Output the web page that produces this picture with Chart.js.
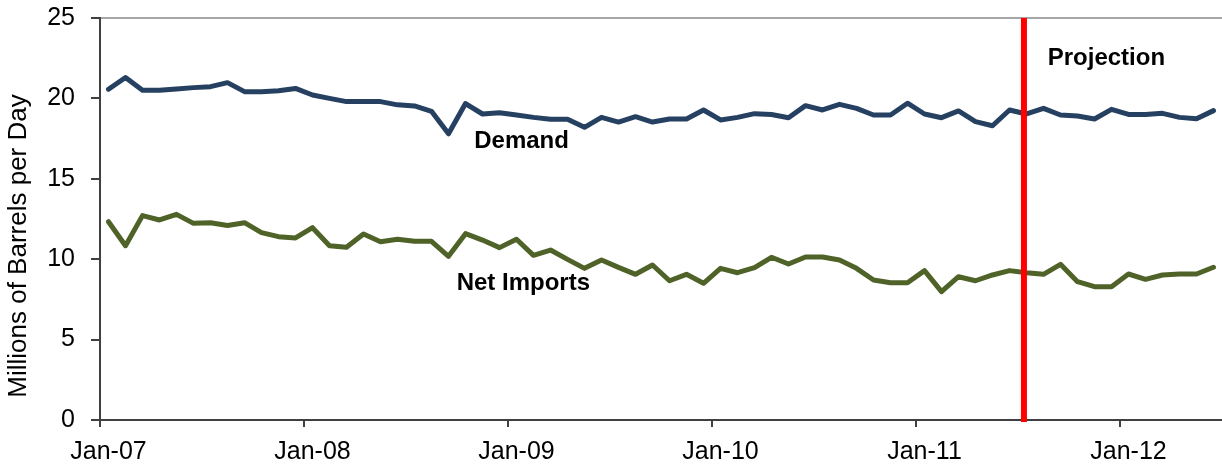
<!DOCTYPE html>
<html>
<head>
<meta charset="utf-8">
<script src="https://cdn.jsdelivr.net/npm/chart.js@4"></script>
<style>
  html, body { margin: 0; padding: 0; background: #fff; }
</style>
</head>
<body>
<canvas id="chartOil" width="1222" height="466"></canvas>
<script>
// months shown on the axis
const years = ['07', '08', '09', '10', '11', '12'];
const months = ['Jan', 'Feb', 'Mar', 'Apr', 'May', 'Jun', 'Jul', 'Aug', 'Sep', 'Oct', 'Nov', 'Dec'];
const monthCount = 66; // Jan-07 .. Jun-12

// millions of barrels per day
const demand = [
  20.57, 21.30, 20.50, 20.50, 20.58, 20.67, 20.73, 20.98, 20.42, 20.42, 20.48, 20.62,
  20.21, 20.00, 19.80, 19.80, 19.80, 19.60, 19.53, 19.20, 17.80, 19.68, 19.03, 19.11,
  18.97, 18.82, 18.70, 18.70, 18.20, 18.82, 18.53, 18.86, 18.53, 18.72, 18.72, 19.28,
  18.66, 18.82, 19.05, 19.00, 18.80, 19.55, 19.28, 19.63, 19.38, 18.97, 18.97, 19.70,
  19.03, 18.80, 19.22, 18.56, 18.30, 19.28, 19.03, 19.38, 18.97, 18.90, 18.72, 19.32,
  19.00, 19.00, 19.07, 18.82, 18.74, 19.24
];
const netImports = [
  12.33, 10.84, 12.71, 12.44, 12.79, 12.23, 12.27, 12.10, 12.27, 11.65, 11.40, 11.32,
  11.96, 10.84, 10.74, 11.57, 11.09, 11.24, 11.11, 11.11, 10.18, 11.59, 11.19, 10.72,
  11.24, 10.24, 10.57, 9.99, 9.43, 9.95, 9.49, 9.06, 9.64, 8.66, 9.06, 8.50,
  9.43, 9.16, 9.47, 10.12, 9.70, 10.14, 10.14, 9.95, 9.43, 8.71, 8.54, 8.54,
  9.29, 7.98, 8.91, 8.66, 9.02, 9.29, 9.16, 9.06, 9.68, 8.60, 8.29, 8.29,
  9.08, 8.75, 9.02, 9.08, 9.08, 9.50
];
const yTicks = [0, 5, 10, 15, 20, 25];

// projection starts between Jun-11 and Jul-11 (category index)
const projectionAt = 53.85;
const notes = [
  { text: 'Demand', x: 24.3, y: 17.3 },
  { text: 'Net Imports', x: 24.4, y: 8.5 },
  { text: 'Projection', x: 58.7, y: 22.5 }
];

const labels = [];
for (let i = 0; i < monthCount; i++) {
  labels.push(months[i % 12] + '-' + years[Math.floor(i / 12)]);
}

const FONT = "'Liberation Sans', Arial, sans-serif";
const AXIS = '#404040';

// red projection line + text notes
const overlay = {
  id: 'overlay',
  afterDatasetsDraw(chart) {
    const { ctx, chartArea, scales } = chart;
    const px = scales.x.getPixelForValue(projectionAt);
    ctx.save();
    ctx.strokeStyle = '#ff0000';
    ctx.lineWidth = 6;
    ctx.beginPath();
    ctx.moveTo(px, chartArea.top);
    ctx.lineTo(px, chartArea.bottom + 2);
    ctx.stroke();

    ctx.fillStyle = '#000';
    ctx.font = 'bold 24px ' + FONT;
    ctx.textAlign = 'center';
    ctx.textBaseline = 'middle';
    notes.forEach(n => {
      ctx.fillText(n.text, scales.x.getPixelForValue(n.x), scales.y.getPixelForValue(n.y));
    });

    // y axis title
    ctx.font = '26px ' + FONT;
    ctx.translate(19, (chartArea.top + chartArea.bottom) / 2 + 27);
    ctx.rotate(-Math.PI / 2);
    ctx.fillText('Millions of Barrels per Day', 0, 0);
    ctx.restore();
  }
};

function chartOil() {
  const ctx = document.getElementById('chartOil');
  new Chart(ctx, {
    type: 'line',
    data: {
      labels: labels,
      datasets: [{
        label: 'Demand',
        data: demand,
        borderColor: '#254061',
        borderWidth: 5,
        pointRadius: 0,
        tension: 0,
        borderJoinStyle: 'round',
        borderCapStyle: 'round'
      }, {
        label: 'Net Imports',
        data: netImports,
        borderColor: '#4f6228',
        borderWidth: 5,
        pointRadius: 0,
        tension: 0,
        borderJoinStyle: 'round',
        borderCapStyle: 'round'
      }]
    },
    options: {
      responsive: false,
      animation: false,
      layout: {
        padding: { top: 18, right: 0, bottom: 0, left: 0 }
      },
      plugins: {
        legend: { display: false },
        tooltip: { enabled: false }
      },
      scales: {
        x: {
          offset: true,
          afterFit(scale) {
            scale.height = 46;
            scale.paddingLeft = 0;
            scale.paddingRight = 0;
          },
          grid: {
            offset: true,
            drawOnChartArea: false,
            tickLength: 7,
            lineWidth: 2,
            color: c => (c.index % 12 === 0 ? AXIS : 'transparent')
          },
          border: { color: AXIS, width: 2 },
          ticks: {
            autoSkip: false,
            maxRotation: 0,
            padding: 10,
            color: '#000',
            font: { family: FONT, size: 25 },
            callback: (v, i) => (i % 12 === 0 ? labels[i] : '')
          }
        },
        y: {
          min: 0,
          max: 25,
          afterFit(scale) {
            scale.width = 100;
            scale.paddingTop = 0;
            scale.paddingBottom = 0;
          },
          afterBuildTicks(scale) { scale.ticks = yTicks.map(v => ({ value: v })); },
          grid: {
            tickLength: 9,
            lineWidth: 2,
            color: c => (c.tick && c.tick.value === 25 ? '#a6a6a6' : 'transparent'),
            tickColor: AXIS
          },
          border: { color: AXIS, width: 2 },
          ticks: {
            padding: 16,
            color: '#000',
            font: { family: FONT, size: 25 }
          }
        }
      }
    },
    plugins: [overlay]
  });
}

chartOil();
</script>
</body>
</html>
